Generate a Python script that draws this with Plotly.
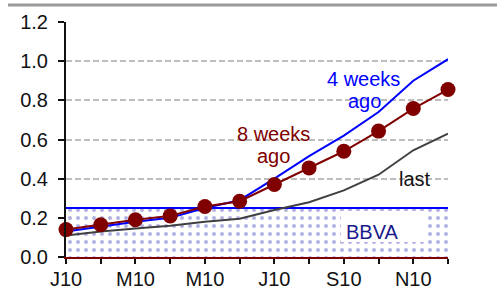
import plotly.graph_objects as go

months = ["J10", "F10", "M10", "A10", "M10", "J10", "J10", "A10", "S10", "O10", "N10", "D10"]
shown_labels = ["J10", "", "M10", "", "M10", "", "J10", "", "S10", "", "N10", ""]
weeks8_ago = [0.14, 0.165, 0.19, 0.21, 0.258, 0.285, 0.37, 0.455, 0.54, 0.643, 0.758, 0.855]
weeks4_ago = [0.13, 0.155, 0.18, 0.20, 0.25, 0.29, 0.40, 0.515, 0.62, 0.74, 0.90, 1.01]
last = [0.11, 0.13, 0.145, 0.16, 0.18, 0.195, 0.24, 0.28, 0.34, 0.42, 0.545, 0.63]
bbva = [0.25] * 12
yticks = [0.0, 0.2, 0.4, 0.6, 0.8, 1.0, 1.2]

x = list(range(len(months)))

W, H = 501, 289
L, R, T, B = 66, 53, 22, 32
pw, ph = W - L - R, H - T - B


def px(xp):
    return (xp - L) / pw


def py(yp):
    return (H - B - yp) / ph


FONT = "Liberation Sans, Arial, sans-serif"
FS = 20

fig = go.Figure()

fig.add_trace(go.Scatter(
    x=x, y=bbva, mode="lines", fill="tozeroy",
    line=dict(color="#0000ff", width=2),
    fillpattern=dict(shape=".", fgcolor="#6464c4", bgcolor="white", size=8, solidity=0.2),
    hoverinfo="skip", showlegend=False, cliponaxis=False,
))
fig.add_trace(go.Scatter(
    x=x, y=last, mode="lines", line=dict(color="#404040", width=2),
    showlegend=False,
))
fig.add_trace(go.Scatter(
    x=x, y=weeks4_ago, mode="lines", line=dict(color="#0000ff", width=2),
    showlegend=False,
))
fig.add_trace(go.Scatter(
    x=x, y=weeks8_ago, mode="lines+markers", line=dict(color="#800000", width=2),
    marker=dict(color="#800000", size=15), showlegend=False, cliponaxis=False,
))

annotations = [
    dict(text="4 weeks", x=px(363), y=py(79), color="#0000ff"),
    dict(text="ago", x=px(364), y=py(100.5), color="#0000ff"),
    dict(text="8 weeks", x=px(273), y=py(134), color="#800000"),
    dict(text="ago", x=px(273), y=py(156), color="#800000"),
    dict(text="last", x=px(415), y=py(179), color="#111111"),
    dict(text="BBVA", x=px(372), y=py(232), color="#1a1a8c"),
]
for a in annotations:
    fig.add_annotation(
        text=a["text"], x=a["x"], y=a["y"], xref="paper", yref="paper",
        xanchor="center", yanchor="middle", showarrow=False,
        font=dict(family=FONT, size=FS, color=a["color"]),
    )

# white text box behind "BBVA"
fig.add_shape(type="rect", xref="paper", yref="paper",
              x0=px(341), x1=px(425), y0=py(242), y1=py(211),
              fillcolor="white", line=dict(width=0), layer="above")
# grey rule at the very top
fig.add_shape(type="line", xref="paper", yref="paper",
              x0=px(8), x1=px(497), y0=py(5), y1=py(5),
              line=dict(color="#999999", width=3))

fig.update_layout(
    width=W, height=H,
    margin=dict(l=L, r=R, t=T, b=B, pad=0, autoexpand=False),
    paper_bgcolor="white", plot_bgcolor="white",
    font=dict(family=FONT, size=FS, color="#111111"),
)
fig.update_xaxes(
    range=[0, 11], tickvals=x, ticktext=shown_labels, automargin=False,
    showline=True, linecolor="#800000", linewidth=2,
    ticks="outside", ticklen=5, tickwidth=2, tickcolor="#111111",
    showgrid=False, zeroline=False, ticklabelstandoff=-2,
    tickfont=dict(family=FONT, size=FS, color="#111111"),
)
fig.update_yaxes(
    range=[0, 1.2], tickvals=yticks, ticktext=[f"{v:.1f}" for v in yticks],
    automargin=False,
    showline=True, linecolor="#111111", linewidth=2,
    ticks="outside", ticklen=6, tickwidth=2, tickcolor="#111111",
    showgrid=True, gridcolor="#bdbdbd", gridwidth=2, griddash="6px,3px",
    zeroline=False, ticklabelstandoff=6,
    tickfont=dict(family=FONT, size=FS, color="#111111"),
)

fig.write_html(
    "out.html",
    config={"displayModeBar": False},
    post_script="document.body.style.margin='0';document.body.style.padding='0';",
)
